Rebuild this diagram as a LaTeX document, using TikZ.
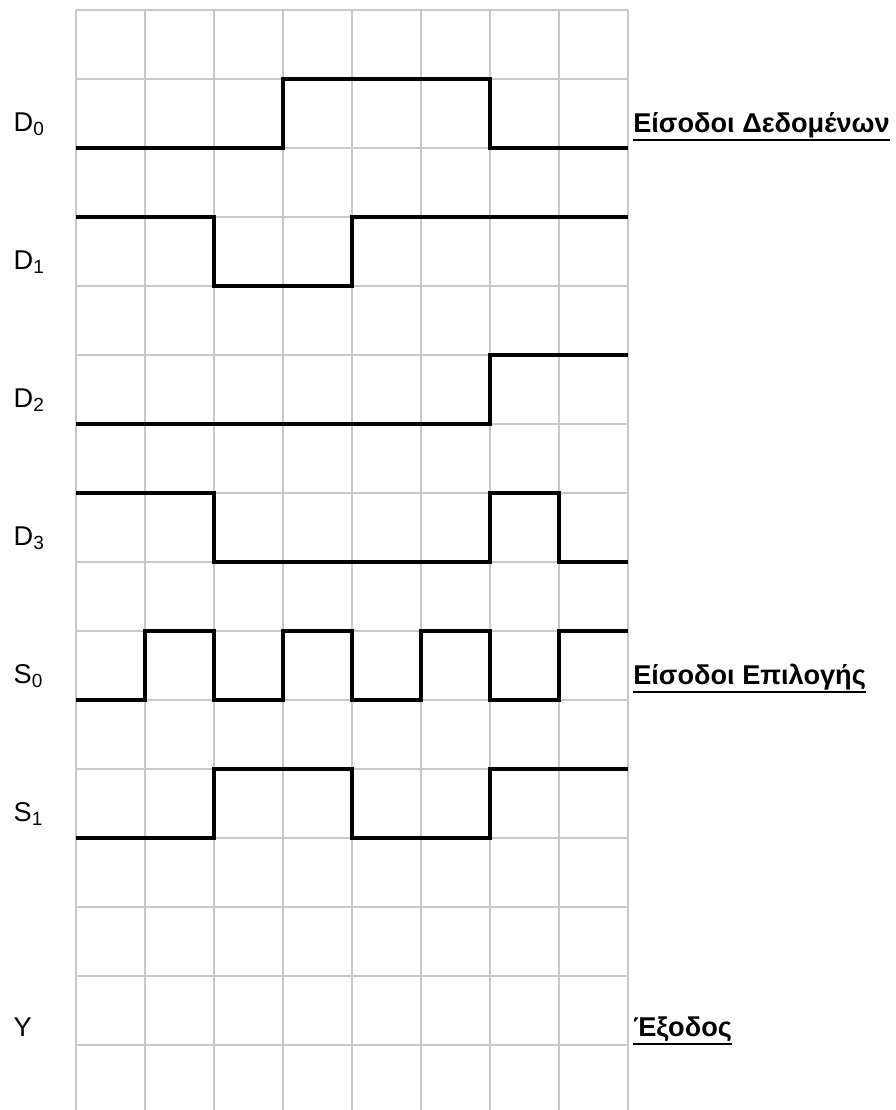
\documentclass[tikz,border=0pt]{standalone}
\usepackage{fontspec}
\setmainfont{Liberation Sans}
\usepackage{tikz}
\newsavebox{\ulinebox}
\newcommand{\undertext}[1]{\sbox{\ulinebox}{#1}\usebox{\ulinebox}\llap{\rule[-3.4pt]{\wd\ulinebox}{0.8pt}}}
\definecolor{gridgray}{HTML}{C8C8C8}
\tikzset{
  gridline/.style={draw=gridgray, line width=0.65pt},
  wave/.style={draw=black, line width=1.7pt, line join=miter},
  siglabel/.style={anchor=base west, inner sep=0pt},
  grouplabel/.style={anchor=base west, inner sep=0pt, font=\fontsize{11.2}{13}\selectfont\bfseries}
}
\begin{document}
\begin{tikzpicture}[font=\fontsize{11.2}{13}\selectfont]
  \useasboundingbox (-1.101,0.145) rectangle (11.884,-15.942);
  % grid
  \foreach \x in {0,...,8}
    \draw[gridline] (\x,0) -- (\x,-15.942);
  \foreach \y in {0,...,15}
    \draw[gridline] (0,-\y) -- (8,-\y);

  % signal names
  \node[siglabel] (lD0) at (-0.91,-1.76) {D\textsubscript{0}};
  \node[siglabel] (lD1) at (-0.91,-3.76) {D\textsubscript{1}};
  \node[siglabel] (lD2) at (-0.91,-5.76) {D\textsubscript{2}};
  \node[siglabel] (lD3) at (-0.91,-7.76) {D\textsubscript{3}};
  \node[siglabel] (lS0) at (-0.91,-9.76) {S\textsubscript{0}};
  \node[siglabel] (lS1) at (-0.91,-11.76) {S\textsubscript{1}};
  \node[siglabel] (lY) at (-0.91,-14.87) {Y};

  % group names
  \node[grouplabel] (data) at (8.07,-1.78) {\undertext{Είσοδοι Δεδομένων}};
  \node[grouplabel] (select) at (8.07,-9.78) {\undertext{Είσοδοι Επιλογής}};
  \node[grouplabel] (out) at (8.07,-14.88) {\undertext{Έξοδος}};

  % waveforms
  \draw[wave] (0,-2) -- (3,-2) -- (3,-1) -- (6,-1) -- (6,-2) -- (8,-2);
  \draw[wave] (0,-3) -- (2,-3) -- (2,-4) -- (4,-4) -- (4,-3) -- (8,-3);
  \draw[wave] (0,-6) -- (6,-6) -- (6,-5) -- (8,-5);
  \draw[wave] (0,-7) -- (2,-7) -- (2,-8) -- (6,-8) -- (6,-7) -- (7,-7) -- (7,-8) -- (8,-8);
  \draw[wave] (0,-10) -- (1,-10) -- (1,-9) -- (2,-9) -- (2,-10) -- (3,-10) -- (3,-9) -- (4,-9)
    -- (4,-10) -- (5,-10) -- (5,-9) -- (6,-9) -- (6,-10) -- (7,-10) -- (7,-9) -- (8,-9);
  \draw[wave] (0,-12) -- (2,-12) -- (2,-11) -- (4,-11) -- (4,-12) -- (6,-12) -- (6,-11) -- (8,-11);
\end{tikzpicture}
\end{document}
